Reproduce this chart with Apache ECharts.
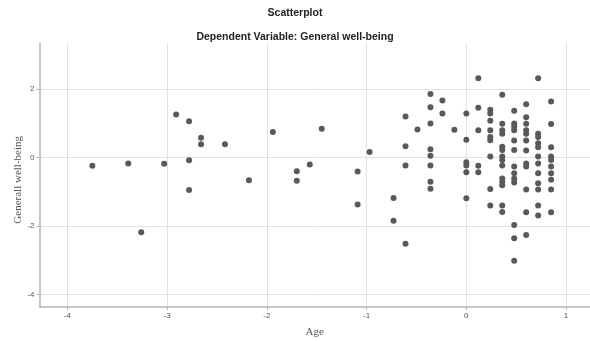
<!DOCTYPE html>
<html>
<head>
<meta charset="utf-8">
<script src="https://cdn.jsdelivr.net/npm/echarts@6/dist/echarts.min.js"></script>
<style>
  html, body { margin: 0; padding: 0; background: #fff; }
  #chart { width: 590px; height: 341px; }
</style>
</head>
<body>
<div id="chart"></div>
<script>
// Age (x) and General well-being (y)
const ageValues = [
  -3.75, -3.39, -3.26, -3.03, -2.91, -2.78, -2.78, -2.78, -2.66, -2.66, -2.42, -2.18, -1.94, -1.70, -1.70,
  -1.57, -1.45, -1.09, -1.09, -0.97, -0.73, -0.73,
  -0.61, -0.61, -0.61, -0.61, -0.49,
  -0.36, -0.36, -0.36, -0.36, -0.36, -0.36, -0.36, -0.36,
  -0.24, -0.24, -0.12,
  0, 0, 0, 0, 0, 0,
  0.12, 0.12, 0.12, 0.12, 0.12,
  0.24, 0.24, 0.24, 0.24, 0.24, 0.24, 0.24, 0.24, 0.24,
  0.36, 0.36, 0.36, 0.36, 0.36, 0.36, 0.36, 0.36, 0.36, 0.36, 0.36, 0.36, 0.36, 0.36,
  0.48, 0.48, 0.48, 0.48, 0.48, 0.48, 0.48, 0.48, 0.48, 0.48, 0.48, 0.48, 0.48,
  0.60, 0.60, 0.60, 0.60, 0.60, 0.60, 0.60, 0.60, 0.60, 0.60, 0.60, 0.60,
  0.72, 0.72, 0.72, 0.72, 0.72, 0.72, 0.72, 0.72, 0.72, 0.72, 0.72, 0.72,
  0.85, 0.85, 0.85, 0.85, 0.85, 0.85, 0.85, 0.85, 0.85, 0.85
]
const wellBeing = [
  -0.24, -0.17, -2.18, -0.18, 1.26, 1.06, -0.08, -0.95, 0.58, 0.39, 0.39, -0.66, 0.75, -0.40, -0.68,
  -0.20, 0.84, -0.41, -1.37, 0.16, -1.18, -1.85,
  1.20, 0.33, -0.23, -2.52, 0.82,
  1.86, 1.47, 1.00, 0.24, 0.05, -0.23, -0.71, -0.91,
  1.67, 1.29, 0.81,
  1.29, 0.52, -0.14, -0.23, -0.43, -1.19,
  2.32, 1.46, 0.80, -0.24, -0.43,
  1.40, 1.29, 1.08, 0.80, 0.60, 0.51, 0.03, -0.92, -1.40,
  1.84, 0.99, 0.80, 0.70, 0.32, 0.22, 0.03, -0.07, -0.23, -0.61, -0.71, -0.81, -1.40, -1.59,
  1.37, 1.00, 0.90, 0.80, 0.50, 0.22, -0.26, -0.46, -0.62, -0.73, -1.97, -2.36, -3.02,
  1.56, 1.18, 0.99, 0.80, 0.70, 0.50, 0.21, -0.17, -0.26, -0.93, -1.60, -2.26,
  2.32, 0.70, 0.60, 0.42, 0.30, 0.03, -0.17, -0.46, -0.75, -0.93, -1.40, -1.69,
  1.64, 0.98, 0.30, 0.03, -0.07, -0.26, -0.46, -0.65, -0.93, -1.60
]

const xRange = [-4.28, 1.24]
const yRange = [-4.36, 3.35]

const points = ageValues.map((a, i) => [a, wellBeing[i]])

const axisGray = '#b4b4b4'
const gridGray = '#e0e0e0'
const labelGray = '#555'

const chart = echarts.init(document.getElementById('chart'), null, { renderer: 'canvas' })

chart.setOption({
  animation: false,
  backgroundColor: '#fff',
  title: [
    {
      text: 'Scatterplot',
      left: 'center',
      top: 8,
      padding: 0,
      textStyle: { fontFamily: 'Liberation Sans', fontSize: 10.5, fontWeight: 'bold', color: '#222' }
    },
    {
      text: 'Dependent Variable: General well-being',
      left: 'center',
      top: 31.5,
      padding: 0,
      textStyle: { fontFamily: 'Liberation Sans', fontSize: 10.5, fontWeight: 'bold', color: '#222' }
    }
  ],
  grid: { left: 39.5, right: 0, top: 43, bottom: 34.3, outerBoundsMode: 'none', containLabel: false },
  xAxis: {
    type: 'value',
    min: xRange[0],
    max: xRange[1],
    minInterval: 1,
    maxInterval: 1,
    name: 'Age',
    nameLocation: 'middle',
    nameGap: 20,
    nameMoveOverlap: false,
    nameTextStyle: { fontFamily: 'Liberation Serif', fontSize: 11, color: labelGray },
    axisLine: { onZero: false, lineStyle: { color: axisGray, width: 1.5 } },
    axisTick: { show: true, length: 3, lineStyle: { color: axisGray } },
    axisLabel: {
      fontFamily: 'Liberation Sans', fontSize: 8, color: labelGray, margin: 5,
      showMinLabel: false, showMaxLabel: false
    },
    splitLine: { show: true, showMinLine: false, showMaxLine: false, lineStyle: { color: gridGray, width: 1 } }
  },
  yAxis: {
    type: 'value',
    min: yRange[0],
    max: yRange[1],
    minInterval: 2,
    maxInterval: 2,
    name: 'Generall well-being',
    nameLocation: 'middle',
    nameGap: 16,
    nameMoveOverlap: false,
    nameTextStyle: { fontFamily: 'Liberation Serif', fontSize: 11, color: labelGray, padding: [0, 10, 0, 0] },
    axisLine: { show: true, onZero: false, lineStyle: { color: axisGray, width: 1.5 } },
    axisTick: { show: true, length: 3, lineStyle: { color: axisGray } },
    axisLabel: {
      fontFamily: 'Liberation Sans', fontSize: 8, color: labelGray, margin: 5,
      showMinLabel: false, showMaxLabel: false
    },
    splitLine: { show: true, showMinLine: false, showMaxLine: false, lineStyle: { color: gridGray, width: 1 } }
  },
  series: [
    {
      type: 'scatter',
      data: points,
      symbol: 'circle',
      symbolSize: 6,
      itemStyle: { color: '#595959', opacity: 1 }
    }
  ]
})
</script>
</body>
</html>
